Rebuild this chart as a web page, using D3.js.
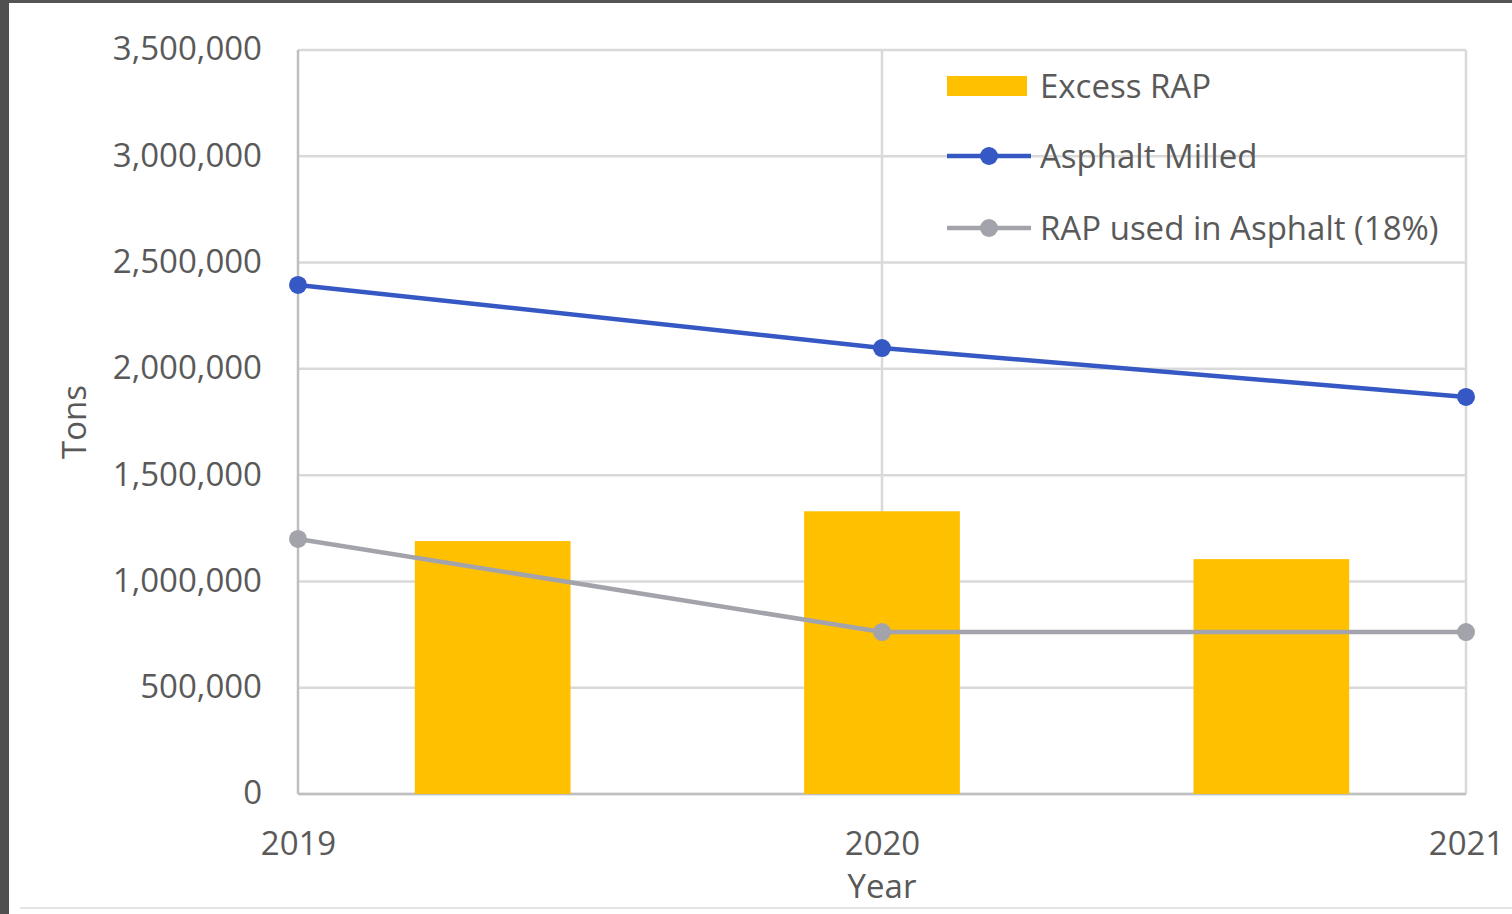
<!DOCTYPE html>
<html>
<head>
<meta charset="utf-8">
<script src="https://cdn.jsdelivr.net/npm/d3@7"></script>
<style>
  html, body { margin: 0; padding: 0; background: #fff; overflow: hidden; }
</style>
</head>
<body>
<div id="chart"></div>
<script>
// data
const years = ['2019', '2020', '2021'];
const excessRap = [1190000, 1330000, 1105000];
const asphaltMilled = [2395000, 2098000, 1868000];
const rapUsed = [1200000, 762000, 762000];
const yTicks = [0, 500000, 1000000, 1500000, 2000000, 2500000, 3000000, 3500000];
const seriesNames = ['Excess RAP', 'Asphalt Milled', 'RAP used in Asphalt (18%)'];

const width = 1512;
const height = 914;
const marginTop = 50;
const marginRight = 46; // right edge of plot at 1466
const marginBottom = 120; // bottom of plot at 794
const marginLeft = 298;
const font = '"Open Sans", "Liberation Sans", sans-serif';
const fontSize = '33px';
const textColor = '#595959';

const svg = d3
    .select('#chart')
    .append('svg')
    .attr('width', width)
    .attr('height', height)
    .attr('viewBox', [0, 0, width, height]);

// page frame (dark strip left and top, faint line at the bottom)
svg.append('rect').attr('x', 0).attr('y', 0).attr('width', width).attr('height', 3).attr('fill', '#555');
svg.append('rect').attr('x', 0).attr('y', 0).attr('width', 9).attr('height', height).attr('fill', '#505050');
svg.append('line')
    .attr('x1', 20).attr('x2', width)
    .attr('y1', 908).attr('y2', 908)
    .attr('stroke', '#e4e4e4').attr('stroke-width', 2);

// scales: bars on band scale, lines on point scale across the same range
const xBand = d3.scaleBand(years, [marginLeft, width - marginRight]).paddingInner(0.6).paddingOuter(0.3);
const xPoint = d3.scalePoint(years, [marginLeft, width - marginRight]).padding(0);
const y = d3.scaleLinear([0, 3500000], [height - marginBottom, marginTop]);

// GRIDLINES
svg.append('g')
    .selectAll('line')
    .data(yTicks)
    .join('line')
    .attr('x1', marginLeft)
    .attr('x2', width - marginRight)
    .attr('y1', (d) => y(d))
    .attr('y2', (d) => y(d))
    .attr('stroke', '#d9d9d9')
    .attr('stroke-width', 2.5);

// vertical gridlines at the years
svg.append('g')
    .selectAll('line')
    .data(years)
    .join('line')
    .attr('x1', (d) => xPoint(d))
    .attr('x2', (d) => xPoint(d))
    .attr('y1', marginTop)
    .attr('y2', height - marginBottom)
    .attr('stroke', (d, i) => (i === 0 ? '#bfbfbf' : '#d9d9d9'))
    .attr('stroke-width', 2.5);

// bottom axis line
svg.append('line')
    .attr('x1', marginLeft).attr('x2', width - marginRight)
    .attr('y1', y(0)).attr('y2', y(0))
    .attr('stroke', '#bfbfbf').attr('stroke-width', 2.5);

// BARS
svg.append('g')
    .selectAll('rect')
    .data(years)
    .join('rect')
    .attr('x', (d) => xBand(d))
    .attr('y', (d, i) => y(excessRap[i]))
    .attr('width', xBand.bandwidth())
    .attr('height', (d, i) => y(0) - y(excessRap[i]))
    .attr('fill', '#ffc000');

// LINES
const lineSeries = [
    { values: asphaltMilled, color: '#3558c4' },
    { values: rapUsed, color: '#a3a4ab' },
];
const line = d3
    .line()
    .x((d, i) => xPoint(years[i]))
    .y((d) => y(d));

lineSeries.forEach((s) => {
    svg.append('path')
        .datum(s.values)
        .attr('d', line)
        .attr('fill', 'none')
        .attr('stroke', s.color)
        .attr('stroke-width', 4.5);
    svg.append('g')
        .selectAll('circle')
        .data(s.values)
        .join('circle')
        .attr('cx', (d, i) => xPoint(years[i]))
        .attr('cy', (d) => y(d))
        .attr('r', 9)
        .attr('fill', s.color);
});

// Y AXIS LABELS
const yAxis = d3.axisLeft(y).tickValues(yTicks).tickSize(0).tickPadding(36).tickFormat(d3.format(','));
svg.append('g')
    .attr('transform', `translate(${marginLeft},0)`)
    .call(yAxis)
    .call((g) => g.select('.domain').remove())
    .call((g) =>
        g
            .selectAll('text')
            .attr('font-size', fontSize)
            .attr('font-family', font)
            .attr('fill', textColor)
            .attr('dy', '0.3em')
    );

// X AXIS LABELS
const xAxis = d3.axisBottom(xPoint).tickSize(0).tickPadding(38);
svg.append('g')
    .attr('transform', `translate(0,${height - marginBottom})`)
    .call(xAxis)
    .call((g) => g.select('.domain').remove())
    .call((g) =>
        g
            .selectAll('text')
            .attr('font-size', fontSize)
            .attr('font-family', font)
            .attr('fill', textColor)
    );

// AXIS TITLES
svg.append('text')
    .attr('x', xPoint('2020'))
    .attr('y', 898)
    .attr('text-anchor', 'middle')
    .attr('font-size', fontSize)
    .attr('font-family', font)
    .attr('fill', textColor)
    .text('Year');

svg.append('text')
    .attr('transform', `translate(86,${(marginTop + height - marginBottom) / 2}) rotate(-90)`)
    .attr('text-anchor', 'middle')
    .attr('font-size', fontSize)
    .attr('font-family', font)
    .attr('fill', textColor)
    .text('Tons');

// LEGEND
const legend = svg.append('g').attr('transform', 'translate(947,0)');
const legendY = [86, 156, 228];

legend.append('rect')
    .attr('x', 0)
    .attr('y', legendY[0] - 10)
    .attr('width', 80)
    .attr('height', 20)
    .attr('fill', '#ffc000');

lineSeries.forEach((s, i) => {
    legend.append('line')
        .attr('x1', 0).attr('x2', 84)
        .attr('y1', legendY[i + 1]).attr('y2', legendY[i + 1])
        .attr('stroke', s.color).attr('stroke-width', 4.5);
    legend.append('circle')
        .attr('cx', 42).attr('cy', legendY[i + 1]).attr('r', 9)
        .attr('fill', s.color);
});

legend.selectAll('text')
    .data(seriesNames)
    .join('text')
    .attr('x', 93)
    .attr('y', (d, i) => legendY[i])
    .attr('dy', '0.35em')
    .attr('font-size', fontSize)
    .attr('font-family', font)
    .attr('fill', textColor)
    .text((d) => d);
</script>
</body>
</html>
